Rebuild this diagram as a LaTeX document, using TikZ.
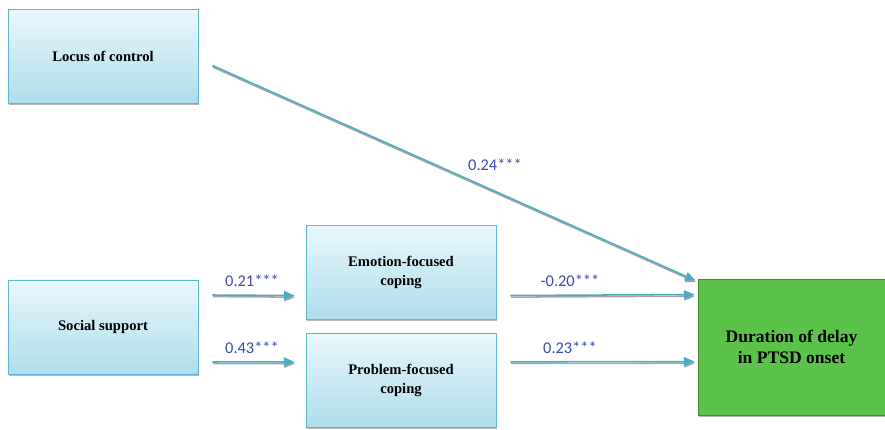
\documentclass[tikz,border=0pt]{standalone}
\usepackage{fontspec}
\setmainfont{Liberation Serif}
\newfontfamily\labelfont{Carlito}
\usetikzlibrary{arrows.meta, positioning, shadows}
\definecolor{boxtop}{HTML}{E8F7FC}
\definecolor{boxbottom}{HTML}{AEDDEC}
\definecolor{boxline}{HTML}{5BB7D2}
\definecolor{arrowblue}{HTML}{4BACC6}
\definecolor{pathblue}{HTML}{3A4AAE}
\definecolor{outgreen}{HTML}{5CC34A}
\definecolor{outline}{HTML}{3F8A30}

\begin{document}
\begin{tikzpicture}[
    x=0.03cm, y=-0.03cm,
    >={Triangle[length=9pt, width=7.5pt]},
    varbox/.style={draw=boxline, line width=0.8pt, top color=boxtop, bottom color=boxbottom,
      minimum width=5.7cm, minimum height=2.82cm, align=center,
      font=\fontsize{12.5}{16}\selectfont\bfseries,
      drop shadow={shadow xshift=1pt, shadow yshift=-1.5pt, opacity=0.55, fill=gray}},
    outbox/.style={draw=outline, line width=0.8pt, fill=outgreen,
      minimum width=5.61cm, minimum height=4.08cm, align=center,
      font=\fontsize{15}{17.5}\selectfont\bfseries,
      drop shadow={shadow xshift=1pt, shadow yshift=-1.5pt, opacity=0.6, fill=gray}},
    path/.style={->, line width=1.3pt, color=arrowblue,
      preaction={draw=gray!70, line width=1.3pt, transform canvas={xshift=0.4pt, yshift=-1.4pt}}},
    coef/.style={font=\labelfont\fontsize{14}{16}\selectfont, text=pathblue},
]
\useasboundingbox (0,0) rectangle (885,430);

% Predictors and mediators
\node[varbox] (locus) at (103,56.5) {Locus of control};
\node[varbox] (social) at (103,327) {Social support};
\node[varbox] (emotion) at (401,272.5) {Emotion-focused\\coping};
\node[varbox] (problem) at (401,380.5) {Problem-focused\\coping};

% Outcome
\node[outbox] (delay) at (791.5,347) {Duration of delay\\in PTSD onset};

% Paths
\draw[path] ([xshift=14*0.03cm, yshift=-0.27cm]locus.east) -- ([xshift=-2*0.03cm, yshift=-2*0.03cm]delay.north west);
\draw[path] ([xshift=14*0.03cm, yshift=0.96cm]social.east) -- ([xshift=-11*0.03cm, yshift=-0.69cm]emotion.west);
\draw[path] ([xshift=14*0.03cm, yshift=-1.05cm]social.east) -- ([xshift=-11*0.03cm, yshift=0.56cm]problem.west);
\draw[path] ([xshift=14*0.03cm, yshift=-0.69cm]emotion.east) -- ([xshift=-3*0.03cm, yshift=-0.48cm]delay.north west);
\draw[path] ([xshift=14*0.03cm, yshift=0.56cm]problem.east) -- ([xshift=-3*0.03cm, yshift=-2.49cm]delay.north west);

% Coefficients
\node[coef] (c1) at (495,165) {0.24***};
\node[coef] (c2) at (252,281) {0.21***};
\node[coef] (c3) at (252,348) {0.43***};
\node[coef] (c4) at (570,281) {-0.20***};
\node[coef] (c5) at (570,348) {0.23***};

\end{tikzpicture}
\end{document}
